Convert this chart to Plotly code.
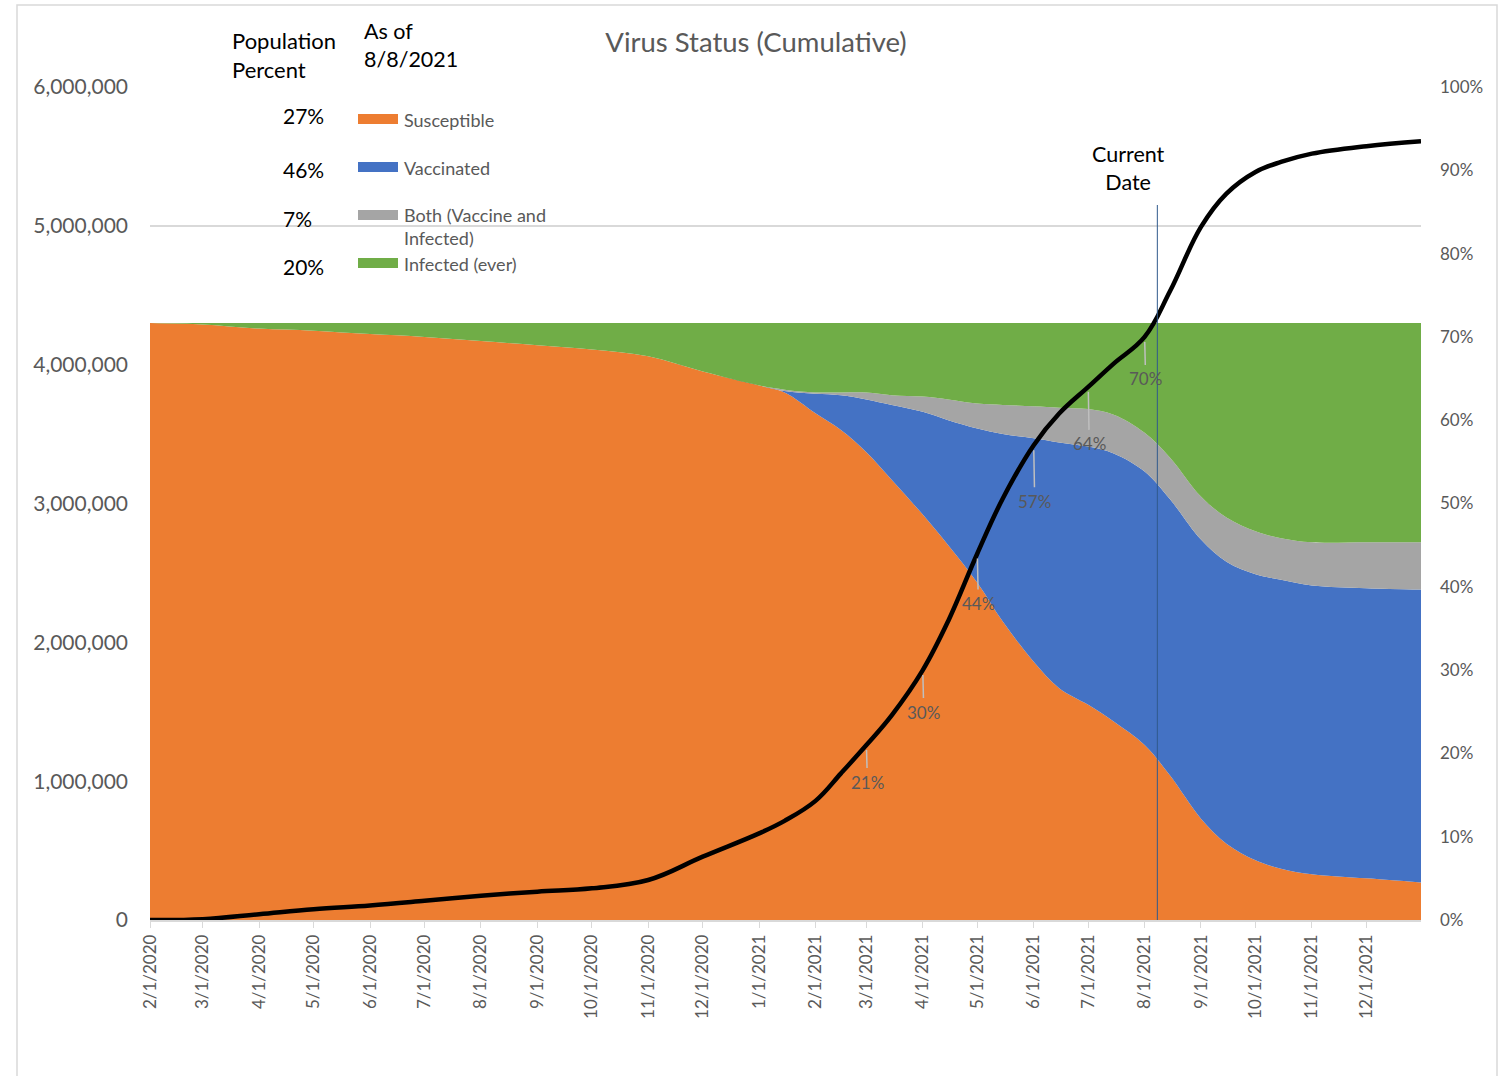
import plotly.graph_objects as go
import pandas as pd

# ── data (people, thousands) ────────────────────────────────────────────────
dates = [
    "2020-02-01", "2020-03-01", "2020-04-01", "2020-05-01", "2020-06-01",
    "2020-07-01", "2020-08-01", "2020-09-01", "2020-10-01", "2020-11-01",
    "2020-12-01", "2021-01-01", "2021-01-15", "2021-02-01", "2021-02-15",
    "2021-03-01", "2021-03-15", "2021-04-01", "2021-04-15", "2021-05-01",
    "2021-05-15", "2021-06-01", "2021-06-15", "2021-07-01", "2021-07-15",
    "2021-08-01", "2021-08-15", "2021-09-01", "2021-09-15", "2021-10-01",
    "2021-10-15", "2021-11-01", "2021-12-01", "2021-12-31",
]
susceptible = [4300, 4290, 4260, 4245, 4220, 4200, 4170, 4140, 4110, 4060,
               3950, 3850, 3800, 3650, 3530, 3370, 3170, 2920, 2700, 2430,
               2150, 1860, 1670, 1550, 1430, 1260, 1040, 730, 550, 430,
               370, 330, 300, 270]
vaccinated = [0, 0, 0, 0, 0, 0, 0, 0, 0, 0,
              0, 0, 10, 140, 250, 380, 540, 740, 900, 1110,
              1350, 1610, 1770, 1860, 1930, 1970, 1990, 2010, 2030, 2060,
              2080, 2080, 2090, 2110]
both = [0, 0, 0, 0, 0, 0, 0, 0, 0, 0,
        0, 0, 10, 10, 20, 50, 70, 110, 150, 180,
        210, 230, 250, 270, 280, 280, 300, 310, 320, 310,
        300, 310, 330, 340]
infected = [0, 10, 40, 55, 80, 100, 130, 160, 190, 240,
            350, 450, 480, 500, 500, 500, 520, 530, 550, 580,
            590, 600, 610, 620, 660, 790, 970, 1250, 1400, 1500,
            1550, 1580, 1580, 1580]
# black line, right axis (%)
line_pct = [0, 0.1, 0.7, 1.3, 1.75, 2.3, 2.9, 3.4, 3.8, 4.8,
            7.6, 10.4, 11.9, 14.3, 17.6, 21, 24.6, 30, 35.9, 44,
            50.6, 57, 60.8, 64, 66.8, 70, 75.5, 83.2, 87.2, 89.8,
            91.0, 92.0, 92.9, 93.5]

label_dates = ["2021-03-01", "2021-04-01", "2021-05-01", "2021-06-01", "2021-07-01", "2021-08-01"]
label_pct = [21, 30, 44, 57, 64, 70]
label_drop = [37, 42, 50, 56, 57, 42]

series_names = ["Susceptible", "Vaccinated", "Both (Vaccine and<br>Infected)", "Infected (ever)"]
as_of_pct = ["27%", "46%", "7%", "20%"]
current_date = "2021-08-08"

month_ticks = pd.date_range("2020-02-01", "2021-12-01", freq="MS")

COLORS = ["#ED7D31", "#4472C4", "#A5A5A5", "#70AD47"]
GREY_TXT = "#595959"
GRID = "#D9D9D9"
FONT = "Lato"

fig = go.Figure()

for name, vals, col in zip(series_names, [susceptible, vaccinated, both, infected], COLORS):
    fig.add_trace(go.Scatter(
        x=dates, y=[v * 1000 for v in vals],
        name=name, stackgroup="pop",
        mode="lines", line=dict(width=0, shape="spline", smoothing=1.0),
        fillcolor=col, hoverinfo="skip", showlegend=False,
    ))

fig.add_trace(go.Scatter(
    x=dates, y=line_pct, yaxis="y2",
    mode="lines", line=dict(color="black", width=4.5, shape="spline", smoothing=1.1),
    showlegend=False,
))

# data labels with leader lines
for d, p, drop in zip(label_dates, label_pct, label_drop):
    fig.add_annotation(
        x=d, y=p, xref="x", yref="y2", text=f"{p}%",
        showarrow=True, arrowhead=0, arrowwidth=1.5, arrowcolor="#BFBFBF",
        ax=1, ay=drop, standoff=5, startstandoff=2,
        font=dict(family=FONT, size=17, color=GREY_TXT),
    )

# current date marker
fig.add_shape(type="line", x0=current_date, x1=current_date, y0=0, y1=5.15e6,
              xref="x", yref="y", line=dict(color="#2F5A8C", width=1))
fig.add_annotation(x=current_date, y=5.42e6, xref="x", yref="y", xshift=-29,
                   text="Current<br>Date", showarrow=False,
                   font=dict(family=FONT, size=21.5, color="black"))

# header texts (pixel positions converted to paper coords)
PW, PH = 1271.0, 833.0
def px(x):
    return (x - 150) / PW
def py(y):
    return (920 - y) / PH

fig.add_annotation(x=px(230), y=py(55), xref="paper", yref="paper",
                   xanchor="left", yanchor="middle",
                   text="Population<br>Percent", showarrow=False, align="left",
                   font=dict(family=FONT, size=22, color="black"))
fig.add_annotation(x=px(362), y=py(45), xref="paper", yref="paper",
                   xanchor="left", yanchor="middle",
                   text="As of<br>8/8/2021", showarrow=False, align="left",
                   font=dict(family=FONT, size=21.5, color="black"))

# custom legend
row_y = [119, 167, 215, 263]
pct_y = [115, 170, 219, 266]
for yy, ty, pct, name, col in zip(row_y, pct_y, as_of_pct, series_names, COLORS):
    fig.add_annotation(x=px(281), y=py(ty), xref="paper", yref="paper",
                       xanchor="left", yanchor="middle", text=pct, showarrow=False,
                       font=dict(family=FONT, size=21, color="black"))
    fig.add_shape(type="rect", xref="paper", yref="paper",
                  x0=px(358), x1=px(398), y0=py(yy + 5), y1=py(yy - 5),
                  fillcolor=col, line=dict(width=0))
    lbl_y = yy + 11 if "<br>" in name else yy + 1
    fig.add_annotation(x=px(402), y=py(lbl_y), xref="paper", yref="paper",
                       xanchor="left", yanchor="middle", text=name,
                       showarrow=False, align="left",
                       font=dict(family=FONT, size=18, color=GREY_TXT))

# outer chart border
fig.add_shape(type="rect", xref="paper", yref="paper",
              x0=px(17), x1=px(1497), y0=py(1090), y1=py(5),
              line=dict(color=GRID, width=1.5), fillcolor="rgba(0,0,0,0)")

fig.update_layout(
    width=1501, height=1076,
    margin=dict(l=150, r=80, t=87, b=156),
    paper_bgcolor="white", plot_bgcolor="white",
    font=dict(family=FONT, color=GREY_TXT),
    title=dict(text="Virus Status (Cumulative)", x=756 / 1501, xanchor="center",
               y=1 - 42 / 1076, yanchor="middle", xref="container",
               font=dict(family=FONT, size=27.5, color=GREY_TXT)),
    xaxis=dict(
        type="date", range=["2020-02-01", "2021-12-31"],
        tickvals=month_ticks, tickformat="%-m/%-d/%Y", tickangle=-90,
        tickfont=dict(family=FONT, size=17, color=GREY_TXT),
        ticks="outside", ticklen=6, tickcolor=GRID,
        showline=True, linecolor=GRID, linewidth=1.5, showgrid=False,
    ),
    yaxis=dict(
        range=[0, 6e6], dtick=1e6, tickformat=",",
        gridcolor=GRID, gridwidth=1.5, zeroline=False,
        tickfont=dict(family=FONT, size=21, color=GREY_TXT),
        ticklabelstandoff=21,
    ),
    yaxis2=dict(
        overlaying="y", side="right", range=[0, 100], dtick=10, ticksuffix="%",
        showgrid=False, zeroline=False,
        tickfont=dict(family=FONT, size=17, color=GREY_TXT),
        ticklabelstandoff=18,
    ),
    showlegend=False,
)

fig.write_html("out.html", config={"displayModeBar": False},
               post_script="document.body.style.margin='0';")
